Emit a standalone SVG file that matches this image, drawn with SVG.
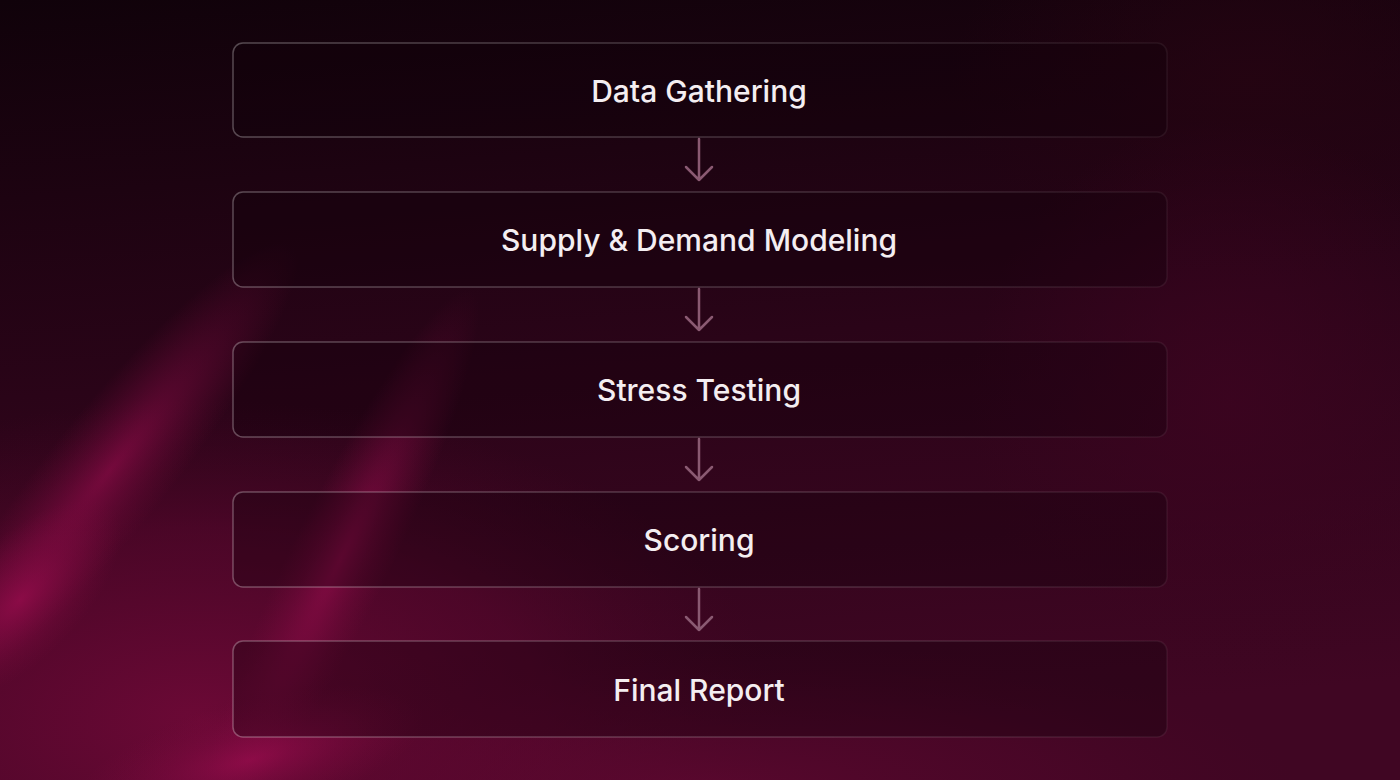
<svg xmlns="http://www.w3.org/2000/svg" width="1400" height="780" viewBox="0 0 1400 780">
<defs>
<style>
.box{fill:rgba(16,0,8,0.32);stroke:url(#strokeG);stroke-width:1.5}
.lbl{font-family:Inter,"Noto Sans","Liberation Sans",sans-serif;font-size:30px;font-weight:500;fill:#f4eef1;text-anchor:middle}
.arr{fill:none;stroke:#8a5a72;stroke-width:2.5;stroke-linecap:round;stroke-linejoin:round}
</style>
<linearGradient id="bg" x1="0" y1="0" x2="0.15" y2="1">
<stop offset="0" stop-color="#10020a"/>
<stop offset="0.5" stop-color="#2a0418"/>
<stop offset="1" stop-color="#400623"/>
</linearGradient>
<linearGradient id="strokeG" x1="0" y1="0" x2="1" y2="0">
<stop offset="0" stop-color="#ffffff" stop-opacity="0.28"/>
<stop offset="0.6" stop-color="#ffffff" stop-opacity="0.17"/>
<stop offset="1" stop-color="#ffffff" stop-opacity="0.06"/>
</linearGradient>
<radialGradient id="glowR" cx="0.5" cy="0.5" r="0.5">
<stop offset="0" stop-color="#3c0420" stop-opacity="0.85"/>
<stop offset="1" stop-color="#3c0420" stop-opacity="0"/>
</radialGradient>
<radialGradient id="glowTR" cx="0.5" cy="0.5" r="0.5">
<stop offset="0" stop-color="#260412" stop-opacity="0.8"/>
<stop offset="1" stop-color="#260412" stop-opacity="0"/>
</radialGradient>
<radialGradient id="glowBL" cx="0.5" cy="0.5" r="0.5">
<stop offset="0" stop-color="#6c0936" stop-opacity="1"/>
<stop offset="0.6" stop-color="#5a072e" stop-opacity="0.6"/>
<stop offset="1" stop-color="#4a0626" stop-opacity="0"/>
</radialGradient>
<radialGradient id="streak" cx="0.5" cy="0.5" r="0.5">
<stop offset="0" stop-color="#960c4c" stop-opacity="0.8"/>
<stop offset="0.5" stop-color="#860b44" stop-opacity="0.4"/>
<stop offset="1" stop-color="#7a0a3c" stop-opacity="0"/>
</radialGradient>
</defs>
<g id="background">
<rect width="1400" height="780" fill="url(#bg)"/>
<ellipse cx="1250" cy="80" rx="300" ry="200" fill="url(#glowTR)"/>
<ellipse cx="1230" cy="400" rx="260" ry="280" fill="url(#glowR)"/>
<ellipse cx="200" cy="720" rx="580" ry="320" fill="url(#glowBL)"/>
<ellipse cx="700" cy="790" rx="600" ry="150" fill="url(#glowBL)" opacity="0.55"/>
<ellipse cx="110" cy="470" rx="290" ry="60" fill="url(#streak)" transform="rotate(-51 110 470)" opacity="0.8"/>
<ellipse cx="20" cy="600" rx="130" ry="60" fill="url(#streak)" transform="rotate(-45 20 600)"/>
<ellipse cx="340" cy="560" rx="300" ry="50" fill="url(#streak)" transform="rotate(-64 340 560)" opacity="0.85"/>
<ellipse cx="250" cy="760" rx="180" ry="60" fill="url(#streak)" transform="rotate(-15 250 760)"/>
</g>
<g id="connectors">
<path class="arr" d="M699 139 V180 M686 167 L699 180 L712 167"/>
<path class="arr" d="M699 289 V330 M686 317 L699 330 L712 317"/>
<path class="arr" d="M699 439 V480 M686 467 L699 480 L712 467"/>
<path class="arr" d="M699 589 V630 M686 617 L699 630 L712 617"/>
</g>
<g id="node-data-gathering">
<rect class="box" x="233" y="43" width="934" height="94" rx="10"/>
<text class="lbl" x="699" y="102">Data Gathering</text>
</g>
<g id="node-supply-demand">
<rect class="box" x="233" y="192" width="934" height="95" rx="10"/>
<text class="lbl" x="699" y="251">Supply &amp; Demand Modeling</text>
</g>
<g id="node-stress-testing">
<rect class="box" x="233" y="342" width="934" height="95" rx="10"/>
<text class="lbl" x="699" y="401">Stress Testing</text>
</g>
<g id="node-scoring">
<rect class="box" x="233" y="492" width="934" height="95" rx="10"/>
<text class="lbl" x="699" y="551">Scoring</text>
</g>
<g id="node-final-report">
<rect class="box" x="233" y="641" width="934" height="96" rx="10"/>
<text class="lbl" x="699" y="701">Final Report</text>
</g>
</svg>
